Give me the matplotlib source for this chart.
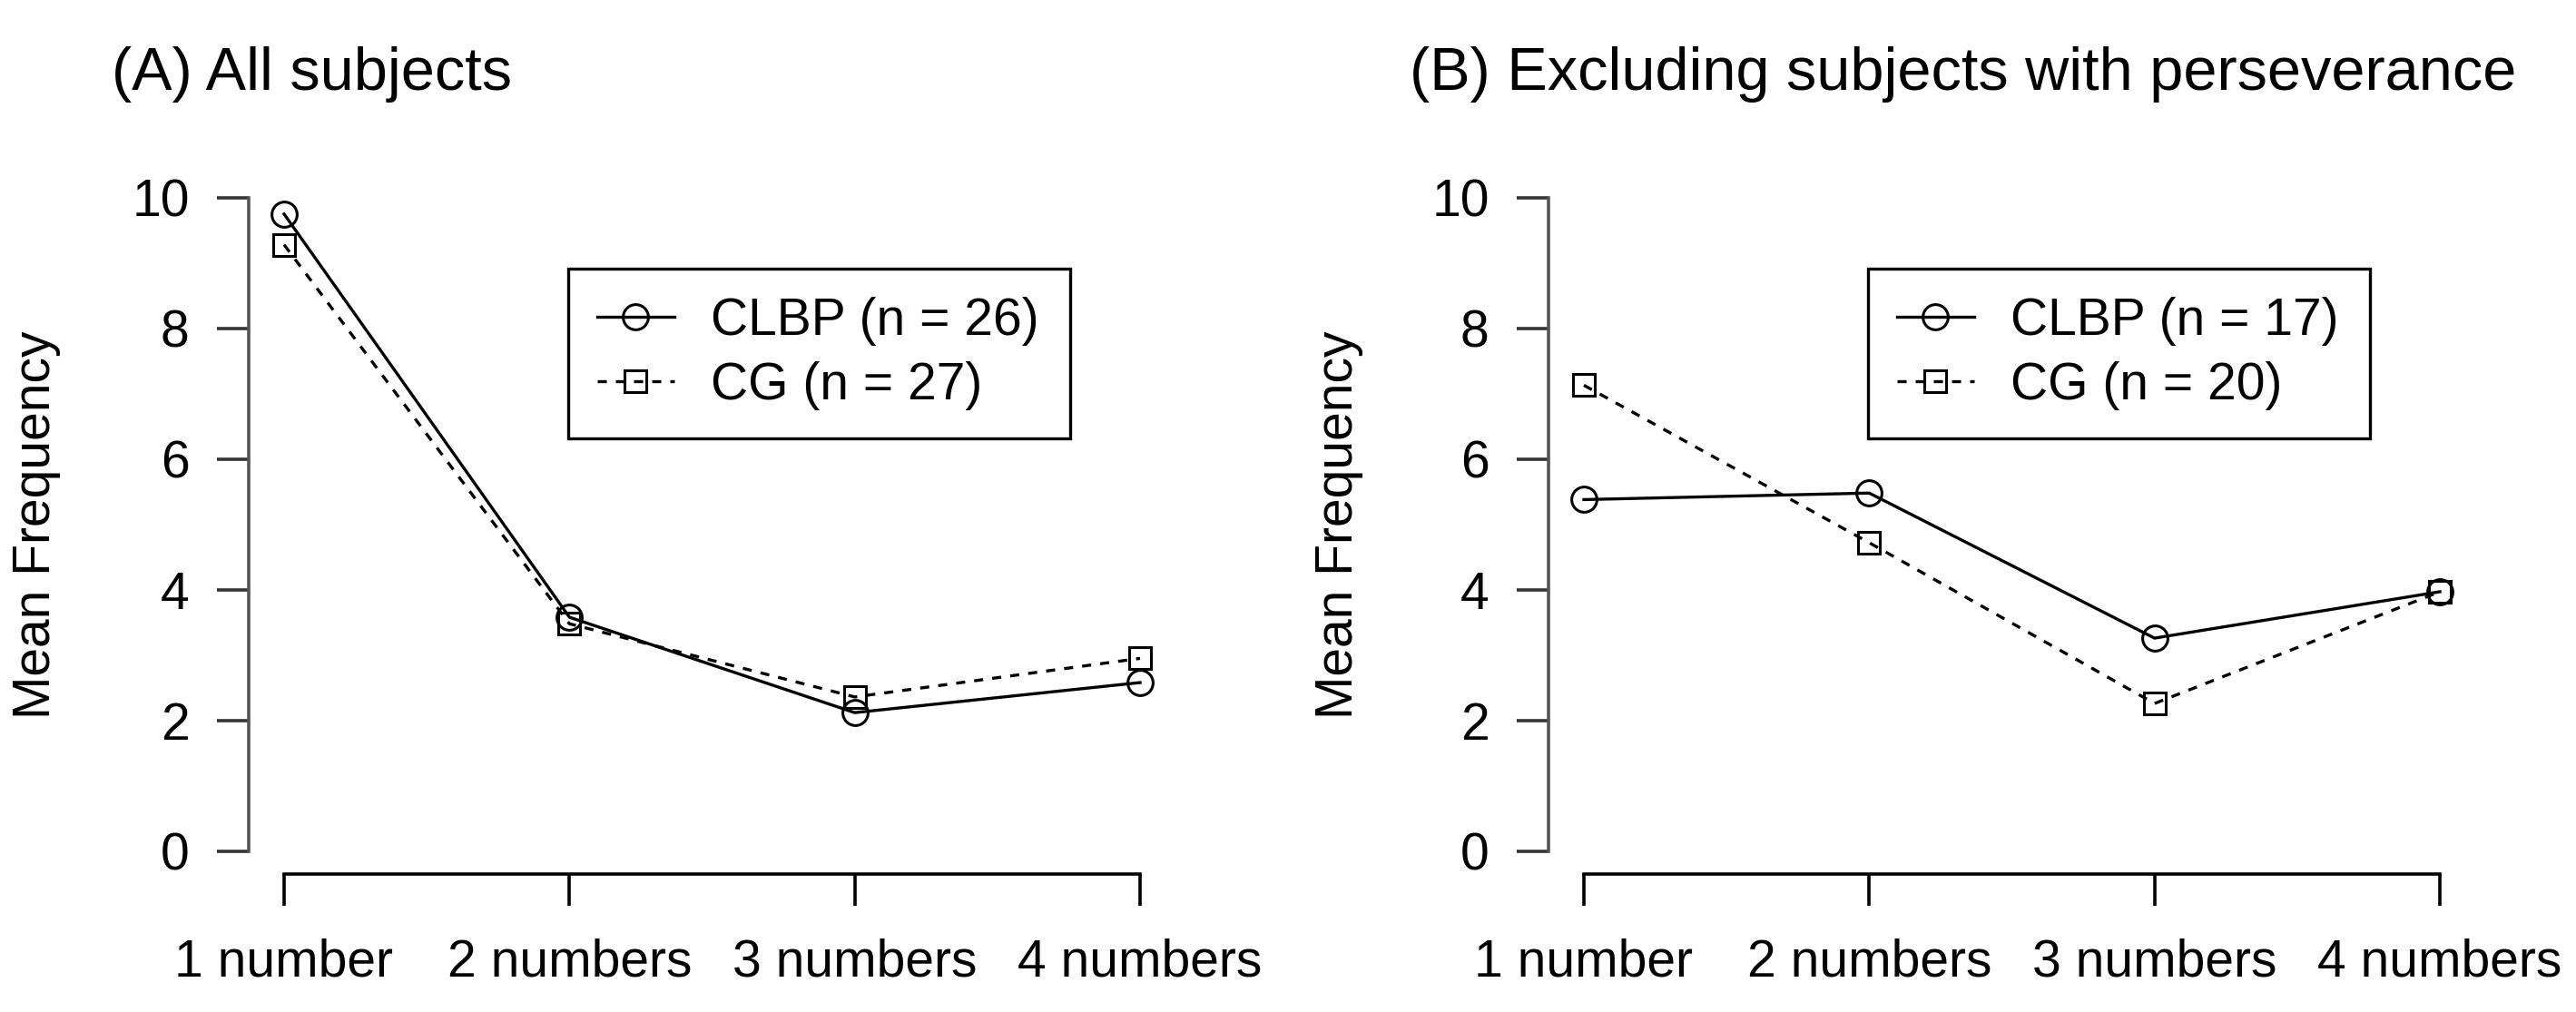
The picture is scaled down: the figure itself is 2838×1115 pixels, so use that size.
import matplotlib
matplotlib.use("Agg")
import matplotlib.pyplot as plt

plt.rcParams["font.family"] = ["Liberation Sans", "DejaVu Sans"]

categories = ["1 number", "2 numbers", "3 numbers", "4 numbers"]
y_ticks = [0, 2, 4, 6, 8, 10]

# (A) all subjects
clbp_all = [9.75, 3.58, 2.12, 2.58]
cg_all = [9.28, 3.48, 2.36, 2.95]
label_clbp_all = "CLBP (n = 26)"
label_cg_all = "CG (n = 27)"

# (B) excluding subjects with perseverance
clbp_excl = [5.38, 5.48, 3.26, 3.97]
cg_excl = [7.13, 4.72, 2.26, 3.97]
label_clbp_excl = "CLBP (n = 17)"
label_cg_excl = "CG (n = 20)"

titles = ["(A) All subjects", "(B) Excluding subjects with perseverance"]

W, H = 2838, 1115
TICK_FS = 41
TITLE_FS = 48


def px_box(x0, x1, y_top, y_bot):
    return [x0 / W, 1 - y_bot / H, (x1 - x0) / W, (y_bot - y_top) / H]


def draw_panel(ax, clbp, cg, lab_clbp, lab_cg):
    x = list(range(1, len(categories) + 1))
    ax.plot(x, clbp, color="black", lw=2.4, marker="o", ms=20,
            mfc="none", mec="black", mew=2.2, label=lab_clbp)
    ax.plot(x, cg, color="black", lw=2.4, ls=(0, (3, 3)), marker="s", ms=17,
            mfc="none", mec="black", mew=2.2, label=lab_cg)

    ax.set_xlim(0.876, 4.124)
    ax.set_ylim(-0.35, 10.4)
    ax.set_xticks(x)
    ax.set_xticklabels(categories)
    ax.set_yticks(y_ticks)
    ax.set_yticklabels([str(v) for v in y_ticks])

    for side in ["top", "right"]:
        ax.spines[side].set_visible(False)
    ax.spines["left"].set_bounds(0, 10)
    ax.spines["bottom"].set_bounds(1, 4)
    ax.spines["left"].set_color("#555555")
    ax.spines["left"].set_linewidth(2.6)
    ax.spines["bottom"].set_linewidth(2.6)

    ax.tick_params(axis="y", length=25, width=2.6, color="#333333",
                   labelsize=TICK_FS, pad=22)
    ax.tick_params(axis="x", length=25, width=2.6, labelsize=TICK_FS, pad=26)

    leg = ax.legend(loc="center", bbox_to_anchor=(0.345, 0.611, 0.541, 0.260),
                    mode="expand", borderaxespad=0, fontsize=TICK_FS,
                    frameon=True, fancybox=False, framealpha=1,
                    edgecolor="black", borderpad=0.55, labelspacing=0.3,
                    handlelength=1.5, handletextpad=0.7)
    leg.get_frame().set_linewidth(2.4)


fig = plt.figure(figsize=(W / 100, H / 100), dpi=100)
ax1 = fig.add_axes(px_box(274, 1295, 189, 963))
ax2 = fig.add_axes(px_box(1706, 2727, 189, 963))

draw_panel(ax1, clbp_all, cg_all, label_clbp_all, label_cg_all)
draw_panel(ax2, clbp_excl, cg_excl, label_clbp_excl, label_cg_excl)

fig.text(123 / W, 1 - 82 / H, titles[0], ha="left", va="center", fontsize=TITLE_FS)
fig.text(1553 / W, 1 - 82 / H, titles[1], ha="left", va="center", fontsize=TITLE_FS)

for xc in [40, 1475]:
    fig.text(xc / W, 1 - 578 / H, "Mean Frequency", rotation=90,
             ha="center", va="center", fontsize=TICK_FS)

fig.savefig("out.png", dpi=100)
